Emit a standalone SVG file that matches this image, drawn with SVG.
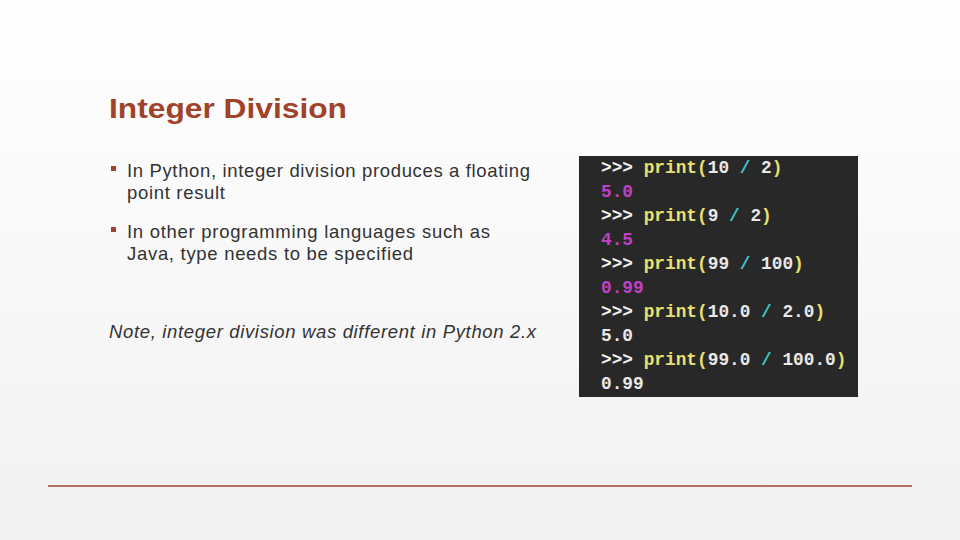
<svg xmlns="http://www.w3.org/2000/svg" width="960" height="540" viewBox="0 0 960 540">
<defs>
<linearGradient id="bg" x1="0" y1="0" x2="0" y2="1"><stop offset="0" stop-color="#ffffff"/><stop offset="1" stop-color="#f1f1f1"/></linearGradient>
<style>
.b{font-family:"Liberation Sans",Arial,sans-serif;font-size:18.5px;fill:#333}
.c{font-family:"Liberation Mono","DejaVu Sans Mono",monospace;font-size:17.8px;font-weight:bold}
.p{fill:#f0f0f0}.y{fill:#e8e070}.t{fill:#40c8c8}.m{fill:#c040c8}.w{fill:#e8e8e8}
</style>
</defs>
<rect width="960" height="540" fill="url(#bg)"/>
<g id="title"><text x="109" y="118" font-family="Liberation Sans,Arial,sans-serif" font-size="28" font-weight="bold" fill="#a0432a" textLength="238" lengthAdjust="spacingAndGlyphs">Integer Division</text></g>
<g id="bullets">
<rect x="111" y="166" width="5" height="5" fill="#a0432a"/>
<text class="b" x="127" y="177" textLength="403">In Python, integer division produces a floating</text>
<text class="b" x="127" y="199" textLength="98">point result</text>
<rect x="111" y="227" width="5" height="5" fill="#a0432a"/>
<text class="b" x="127" y="238" textLength="363">In other programming languages such as</text>
<text class="b" x="127" y="260" textLength="286">Java, type needs to be specified</text>
<text class="b" x="109" y="338" font-style="italic" textLength="427">Note, integer division was different in Python 2.x</text>
</g>
<g id="code">
<rect x="579" y="156" width="279" height="241" fill="#282828"/>
<g class="c">
<text x="601" y="173"><tspan class="p">&gt;&gt;&gt; </tspan><tspan class="y">print(</tspan><tspan class="w">10 </tspan><tspan class="t">/</tspan><tspan class="w"> 2</tspan><tspan class="y">)</tspan></text>
<text x="601" y="197" class="m">5.0</text>
<text x="601" y="221"><tspan class="p">&gt;&gt;&gt; </tspan><tspan class="y">print(</tspan><tspan class="w">9 </tspan><tspan class="t">/</tspan><tspan class="w"> 2</tspan><tspan class="y">)</tspan></text>
<text x="601" y="245" class="m">4.5</text>
<text x="601" y="269"><tspan class="p">&gt;&gt;&gt; </tspan><tspan class="y">print(</tspan><tspan class="w">99 </tspan><tspan class="t">/</tspan><tspan class="w"> 100</tspan><tspan class="y">)</tspan></text>
<text x="601" y="293" class="m">0.99</text>
<text x="601" y="317"><tspan class="p">&gt;&gt;&gt; </tspan><tspan class="y">print(</tspan><tspan class="w">10.0 </tspan><tspan class="t">/</tspan><tspan class="w"> 2.0</tspan><tspan class="y">)</tspan></text>
<text x="601" y="341" class="w">5.0</text>
<text x="601" y="365"><tspan class="p">&gt;&gt;&gt; </tspan><tspan class="y">print(</tspan><tspan class="w">99.0 </tspan><tspan class="t">/</tspan><tspan class="w"> 100.0</tspan><tspan class="y">)</tspan></text>
<text x="601" y="389" class="w">0.99</text>
</g>
</g>
<line x1="48" y1="486" x2="912" y2="486" stroke="#a0432a" stroke-width="1.5"/>
</svg>
